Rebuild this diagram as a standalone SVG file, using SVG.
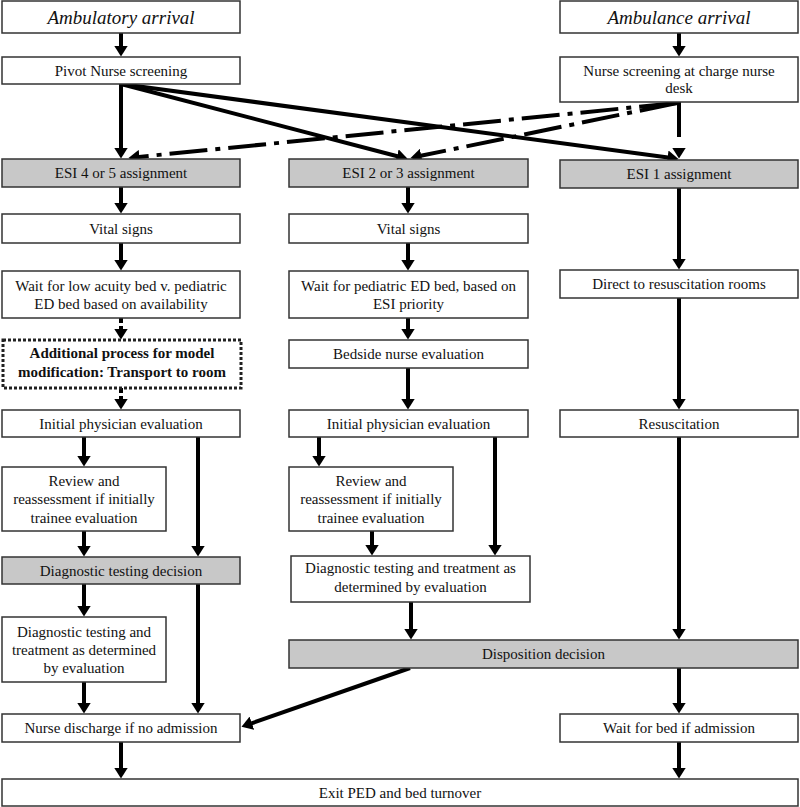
<svg xmlns="http://www.w3.org/2000/svg" width="800" height="807" viewBox="0 0 800 807">
<defs>
<style>
.box{fill:#fff;stroke:#333;stroke-width:1.5}
.gray{fill:#c8c8c8;stroke:#333;stroke-width:1.5}
.dotbox{fill:#fff;stroke:#222;stroke-width:3;stroke-dasharray:3 2}
text{font-family:"Liberation Serif","Times New Roman",serif;font-size:15px;fill:#111;text-anchor:middle}
.title{font-size:19px;font-style:italic}
.bold{font-weight:bold}
.c{fill:none;stroke:#000;stroke-width:4;marker-end:url(#ah)}
.dash{stroke-dasharray:5 3}
.long{stroke-dasharray:35 12}
.dd{stroke-dasharray:38 8 5 8}
</style>
<marker id="ah" markerUnits="userSpaceOnUse" markerWidth="12" markerHeight="14" refX="0.5" refY="7" orient="auto" viewBox="0 0 12 14">
<path d="M0,0 L11,7 L0,14 Z" fill="#000"/>
</marker>
</defs>
<rect width="800" height="807" fill="#fff"/>

<g id="connectors">
<line class="c" x1="121" y1="33" x2="121" y2="46"/>
<line class="c" x1="121" y1="84" x2="121" y2="148"/>
<line class="c" x1="121" y1="187" x2="121" y2="203"/>
<line class="c" x1="121" y1="243" x2="121" y2="260"/>
<line class="c dash" x1="121" y1="318" x2="121" y2="329"/>
<line class="c dash" x1="121" y1="388" x2="121" y2="399"/>
<line class="c" x1="84" y1="437" x2="84" y2="456"/>
<line class="c" x1="198" y1="437" x2="198" y2="546"/>
<line class="c" x1="84" y1="531" x2="84" y2="546"/>
<line class="c" x1="84" y1="584" x2="84" y2="606"/>
<line class="c" x1="198" y1="584" x2="198" y2="703"/>
<line class="c" x1="84" y1="682" x2="84" y2="703"/>
<line class="c" x1="121" y1="742" x2="121" y2="768"/>

<line class="c" x1="408" y1="187" x2="408" y2="203"/>
<line class="c" x1="408" y1="243" x2="408" y2="260"/>
<line class="c" x1="408" y1="318" x2="408" y2="329"/>
<line class="c" x1="408" y1="368" x2="408" y2="399"/>
<line class="c" x1="319" y1="437" x2="319" y2="456"/>
<line class="c" x1="495" y1="437" x2="495" y2="545"/>
<line class="c" x1="372" y1="531" x2="372" y2="545"/>
<line class="c" x1="411" y1="602" x2="411" y2="629"/>

<line class="c" x1="679" y1="33" x2="679" y2="46"/>
<line class="c long" x1="679" y1="102" x2="679" y2="148"/>
<line class="c" x1="679" y1="188" x2="679" y2="259"/>
<line class="c" x1="679" y1="298" x2="679" y2="399"/>
<line class="c" x1="679" y1="437" x2="679" y2="629"/>
<line class="c" x1="679" y1="668" x2="679" y2="703"/>
<line class="c" x1="679" y1="742" x2="679" y2="768"/>

<line class="c" x1="121" y1="84" x2="397.4" y2="156.2"/>
<line class="c" x1="121" y1="84" x2="668.1" y2="157.5"/>
<line class="c dd" x1="677" y1="103" x2="138.9" y2="156.9"/>
<line class="c dd" x1="677" y1="103" x2="420.8" y2="155.8"/>
<line class="c" x1="410" y1="668" x2="251.4" y2="723.4"/>
</g>

<g id="ambulatory-arrival"><rect class="box" x="2" y="1" width="238" height="32"/><text class="title" x="121" y="24">Ambulatory arrival</text></g>
<g id="pivot-nurse"><rect class="box" x="2" y="57" width="238" height="27"/><text x="121" y="76">Pivot Nurse screening</text></g>
<g id="esi45"><rect class="gray" x="2" y="159" width="238" height="28"/><text x="121" y="178">ESI 4 or 5 assignment</text></g>
<g id="vital-left"><rect class="box" x="2" y="214" width="238" height="29"/><text x="121" y="234">Vital signs</text></g>
<g id="wait-low"><rect class="box" x="2" y="271" width="238" height="47"/><text x="121" y="291">Wait for low acuity bed v. pediatric</text><text x="121" y="309">ED bed based on availability</text></g>
<g id="transport"><rect class="dotbox" x="3" y="340" width="238" height="48"/><text class="bold" x="122" y="358">Additional process for model</text><text class="bold" x="122" y="377">modification: Transport to room</text></g>
<g id="init-left"><rect class="box" x="2" y="410" width="238" height="27"/><text x="121" y="429">Initial physician evaluation</text></g>
<g id="review-left"><rect class="box" x="2" y="467" width="164" height="64"/><text x="84" y="486">Review and</text><text x="84" y="504">reassessment if initially</text><text x="84" y="523">trainee evaluation</text></g>
<g id="diag-decision"><rect class="gray" x="2" y="557" width="238" height="27"/><text x="121" y="576">Diagnostic testing decision</text></g>
<g id="diag-left"><rect class="box" x="2" y="617" width="164" height="65"/><text x="84" y="637">Diagnostic testing and</text><text x="84" y="655">treatment as determined</text><text x="84" y="673">by evaluation</text></g>
<g id="nurse-discharge"><rect class="box" x="2" y="714" width="238" height="28"/><text x="121" y="733">Nurse discharge if no admission</text></g>
<g id="exit"><rect class="box" x="2" y="779" width="796" height="27"/><text x="400" y="798">Exit PED and bed turnover</text></g>

<g id="esi23"><rect class="gray" x="289" y="159" width="239" height="28"/><text x="408.5" y="178">ESI 2 or 3 assignment</text></g>
<g id="vital-mid"><rect class="box" x="289" y="214" width="239" height="29"/><text x="408.5" y="234">Vital signs</text></g>
<g id="wait-ped"><rect class="box" x="289" y="271" width="239" height="47"/><text x="408.5" y="291">Wait for pediatric ED bed, based on</text><text x="408.5" y="309">ESI priority</text></g>
<g id="bedside"><rect class="box" x="289" y="340" width="239" height="28"/><text x="408.5" y="359">Bedside nurse evaluation</text></g>
<g id="init-mid"><rect class="box" x="289" y="410" width="239" height="27"/><text x="408.5" y="429">Initial physician evaluation</text></g>
<g id="review-mid"><rect class="box" x="289" y="467" width="164" height="64"/><text x="371" y="486">Review and</text><text x="371" y="504">reassessment if initially</text><text x="371" y="523">trainee evaluation</text></g>
<g id="diag-mid"><rect class="box" x="291" y="556" width="239" height="46"/><text x="410.5" y="573">Diagnostic testing and treatment as</text><text x="410.5" y="592">determined by evaluation</text></g>
<g id="disposition"><rect class="gray" x="289" y="640" width="509" height="28"/><text x="543.5" y="659">Disposition decision</text></g>

<g id="ambulance-arrival"><rect class="box" x="560" y="1" width="238" height="32"/><text class="title" x="679" y="24">Ambulance arrival</text></g>
<g id="nurse-desk"><rect class="box" x="560" y="57" width="238" height="45"/><text x="679" y="76">Nurse screening at charge nurse</text><text x="679" y="93">desk</text></g>
<g id="esi1"><rect class="gray" x="560" y="160" width="238" height="28"/><text x="679" y="179">ESI 1 assignment</text></g>
<g id="direct-resus"><rect class="box" x="560" y="270" width="238" height="28"/><text x="679" y="289">Direct to resuscitation rooms</text></g>
<g id="resuscitation"><rect class="box" x="560" y="410" width="238" height="27"/><text x="679" y="429">Resuscitation</text></g>
<g id="wait-bed"><rect class="box" x="560" y="714" width="238" height="28"/><text x="679" y="733">Wait for bed if admission</text></g>
</svg>
